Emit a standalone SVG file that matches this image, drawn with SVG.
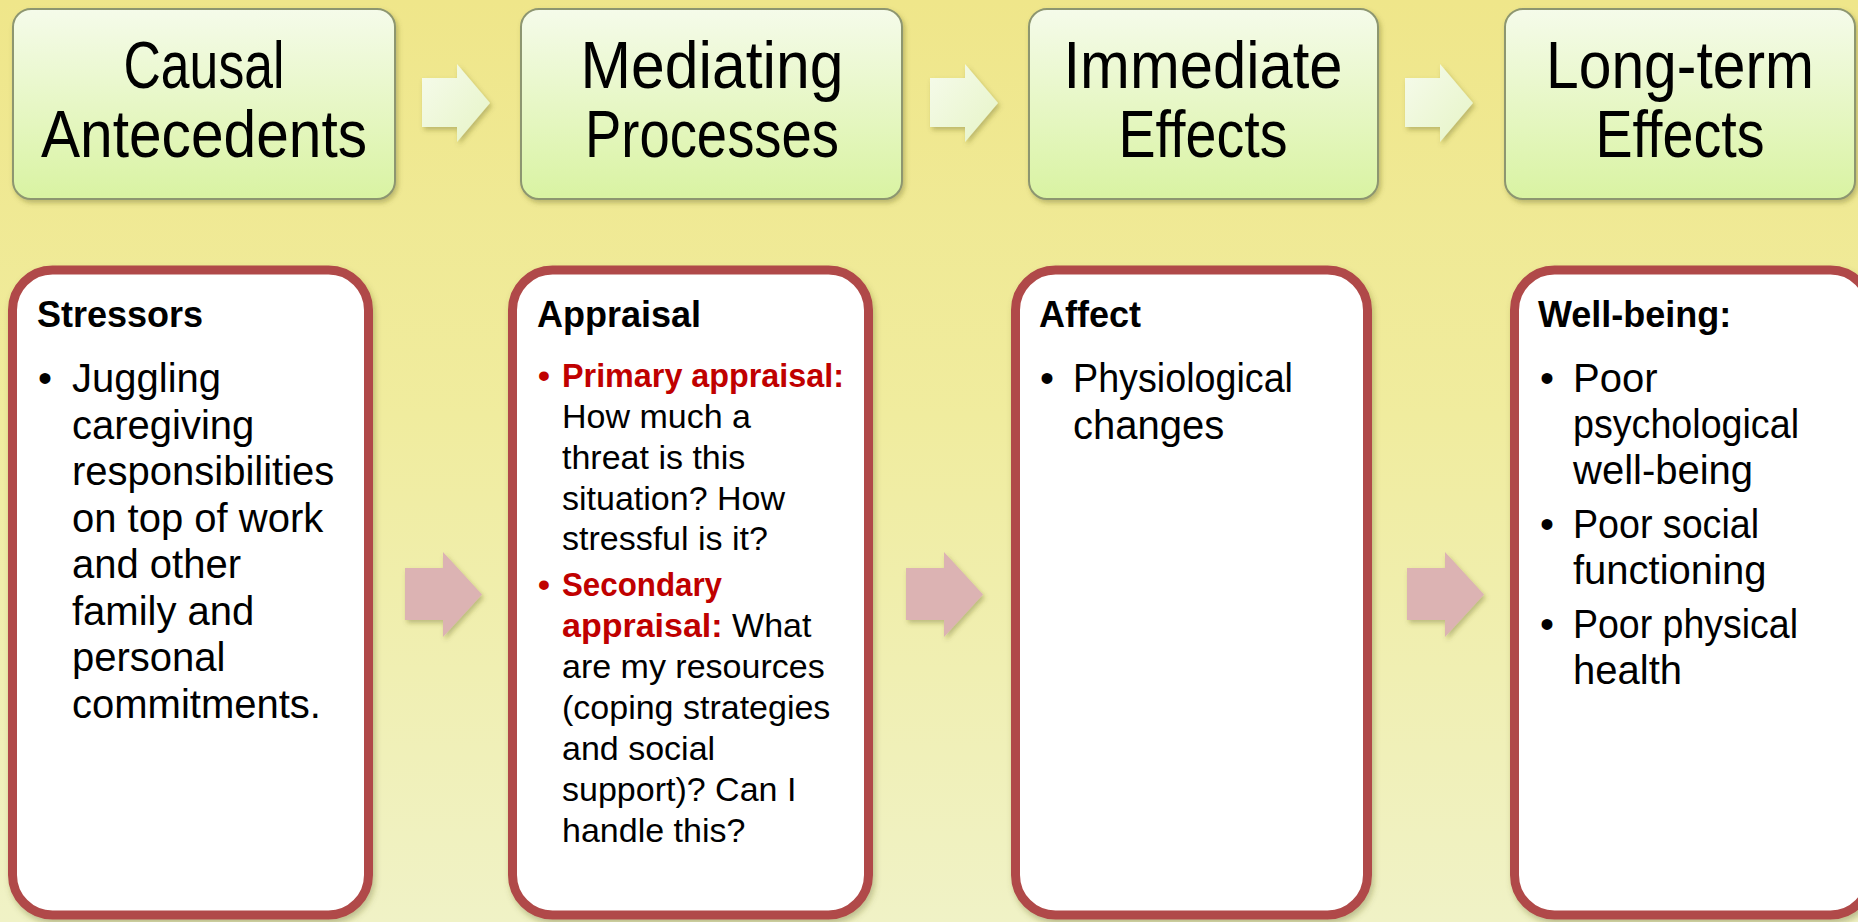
<svg xmlns="http://www.w3.org/2000/svg" width="1858" height="922" viewBox="0 0 1858 922">
<defs>
<linearGradient id="bg" x1="0" y1="0" x2="0" y2="1">
<stop offset="0" stop-color="#efe68a"/>
<stop offset="0.45" stop-color="#f0ec9e"/>
<stop offset="1" stop-color="#f0f2c6"/>
</linearGradient>
<linearGradient id="topfill" x1="0" y1="0" x2="0" y2="1">
<stop offset="0" stop-color="#f5fbea"/>
<stop offset="1" stop-color="#d9f3a2"/>
</linearGradient>
<linearGradient id="arrfill" x1="0" y1="0" x2="1" y2="1">
<stop offset="0" stop-color="#f6fbec"/>
<stop offset="1" stop-color="#e6f4c6"/>
</linearGradient>
<filter id="sh" x="-10%" y="-10%" width="125%" height="125%">
<feDropShadow dx="2" dy="3" stdDeviation="2.5" flood-color="#5a5a20" flood-opacity="0.35"/>
</filter>
<filter id="shb" x="-10%" y="-10%" width="125%" height="125%">
<feDropShadow dx="2" dy="4" stdDeviation="3" flood-color="#5a5a20" flood-opacity="0.35"/>
</filter>
<path id="toparrow" d="M0,14 H35 V0 L68,39 L35,78 V63 H0 Z"/>
<path id="botarrow" d="M0,16 H38 V0 L77,42.5 L38,85 V68 H0 Z"/>
</defs>
<style>
.top{fill:url(#topfill);stroke:#8d9670;stroke-width:2;filter:url(#sh)}
.toptxt{font-family:"Liberation Sans",Arial,sans-serif;font-size:66px;fill:#000;text-anchor:middle}
.card{fill:#fff;stroke:#b04a48;stroke-width:9;filter:url(#shb)}
.hd{font-family:"Liberation Sans",Arial,sans-serif;font-size:36px;font-weight:bold;fill:#000}
.b40{font-family:"Liberation Sans",Arial,sans-serif;font-size:40px;fill:#000}
.b34{font-family:"Liberation Sans",Arial,sans-serif;font-size:34px;fill:#000}
.red{fill:#c00000;font-weight:bold}
.ta{fill:url(#arrfill);filter:url(#sh)}
.ba{fill:#dcb3b3;filter:url(#sh)}
</style>
<rect x="0" y="0" width="1858" height="922" fill="url(#bg)"/>

<g id="connectors">
<use href="#toparrow" x="422" y="64" class="ta"/>
<use href="#toparrow" x="930" y="64" class="ta"/>
<use href="#toparrow" x="1405" y="64" class="ta"/>
<use href="#botarrow" x="405" y="552" class="ba"/>
<use href="#botarrow" x="906" y="552" class="ba"/>
<use href="#botarrow" x="1407" y="552" class="ba"/>
</g>

<g id="causal-antecedents">
<rect class="top" x="13" y="9" width="382" height="190" rx="18"/>
<text class="toptxt" x="204" y="88" textLength="161" lengthAdjust="spacingAndGlyphs">Causal</text>
<text class="toptxt" x="204" y="157" textLength="326" lengthAdjust="spacingAndGlyphs">Antecedents</text>
</g>
<g id="mediating-processes">
<rect class="top" x="521" y="9" width="381" height="190" rx="18"/>
<text class="toptxt" x="712" y="88" textLength="263" lengthAdjust="spacingAndGlyphs">Mediating</text>
<text class="toptxt" x="712" y="157" textLength="254" lengthAdjust="spacingAndGlyphs">Processes</text>
</g>
<g id="immediate-effects">
<rect class="top" x="1029" y="9" width="349" height="190" rx="18"/>
<text class="toptxt" x="1203" y="88" textLength="279" lengthAdjust="spacingAndGlyphs">Immediate</text>
<text class="toptxt" x="1203" y="157" textLength="169" lengthAdjust="spacingAndGlyphs">Effects</text>
</g>
<g id="long-term-effects">
<rect class="top" x="1505" y="9" width="350" height="190" rx="18"/>
<text class="toptxt" x="1680" y="88" textLength="268" lengthAdjust="spacingAndGlyphs">Long-term</text>
<text class="toptxt" x="1680" y="157" textLength="169" lengthAdjust="spacingAndGlyphs">Effects</text>
</g>

<g id="stressors">
<rect class="card" x="12.5" y="270" width="356" height="645" rx="40"/>
<text class="hd" x="37" y="327">Stressors</text>
<text class="b40" x="38" y="392">•</text>
<text class="b40" x="72">
<tspan x="72" y="392">Juggling</tspan>
<tspan x="72" y="438.5">caregiving</tspan>
<tspan x="72" y="485">responsibilities</tspan>
<tspan x="72" y="531.5">on top of work</tspan>
<tspan x="72" y="578">and other</tspan>
<tspan x="72" y="624.5">family and</tspan>
<tspan x="72" y="671">personal</tspan>
<tspan x="72" y="717.5">commitments.</tspan>
</text>
</g>

<g id="appraisal">
<rect class="card" x="512.5" y="270" width="356" height="645" rx="40"/>
<text class="hd" x="537" y="327">Appraisal</text>
<text class="b34 red" x="538" y="387">•</text>
<text class="b34 red" x="562" y="387" textLength="282" lengthAdjust="spacingAndGlyphs">Primary appraisal:</text>
<text class="b34">
<tspan x="562" y="428">How much a</tspan>
<tspan x="562" y="469">threat is this</tspan>
<tspan x="562" y="510">situation? How</tspan>
<tspan x="562" y="550">stressful is it?</tspan>
</text>
<text class="b34 red" x="538" y="596">•</text>
<text class="b34 red" x="562" y="596" textLength="160" lengthAdjust="spacingAndGlyphs">Secondary</text>
<text class="b34" x="562" y="637"><tspan class="red">appraisal:</tspan> What</text>
<text class="b34">
<tspan x="562" y="678">are my resources</tspan>
<tspan x="562" y="719">(coping strategies</tspan>
<tspan x="562" y="760">and social</tspan>
<tspan x="562" y="801">support)? Can I</tspan>
<tspan x="562" y="842">handle this?</tspan>
</text>
</g>

<g id="affect">
<rect class="card" x="1015.5" y="270" width="352" height="645" rx="40"/>
<text class="hd" x="1039" y="327">Affect</text>
<text class="b40" x="1040" y="392">•</text>
<text class="b40" x="1073" y="392" textLength="220" lengthAdjust="spacingAndGlyphs">Physiological</text>
<text class="b40" x="1073" y="438.5">changes</text>
</g>

<g id="well-being">
<rect class="card" x="1514.5" y="270" width="356" height="645" rx="40"/>
<text class="hd" x="1538" y="327">Well-being:</text>
<text class="b40" x="1540" y="392">•</text>
<text class="b40" x="1573" y="392">Poor</text>
<text class="b40" x="1573" y="438" textLength="226" lengthAdjust="spacingAndGlyphs">psychological</text>
<text class="b40" x="1573" y="484">well-being</text>
<text class="b40" x="1540" y="538">•</text>
<text class="b40" x="1573" y="538" textLength="186" lengthAdjust="spacingAndGlyphs">Poor social</text>
<text class="b40" x="1573" y="584">functioning</text>
<text class="b40" x="1540" y="638">•</text>
<text class="b40" x="1573" y="638" textLength="225" lengthAdjust="spacingAndGlyphs">Poor physical</text>
<text class="b40" x="1573" y="684">health</text>
</g>
</svg>
